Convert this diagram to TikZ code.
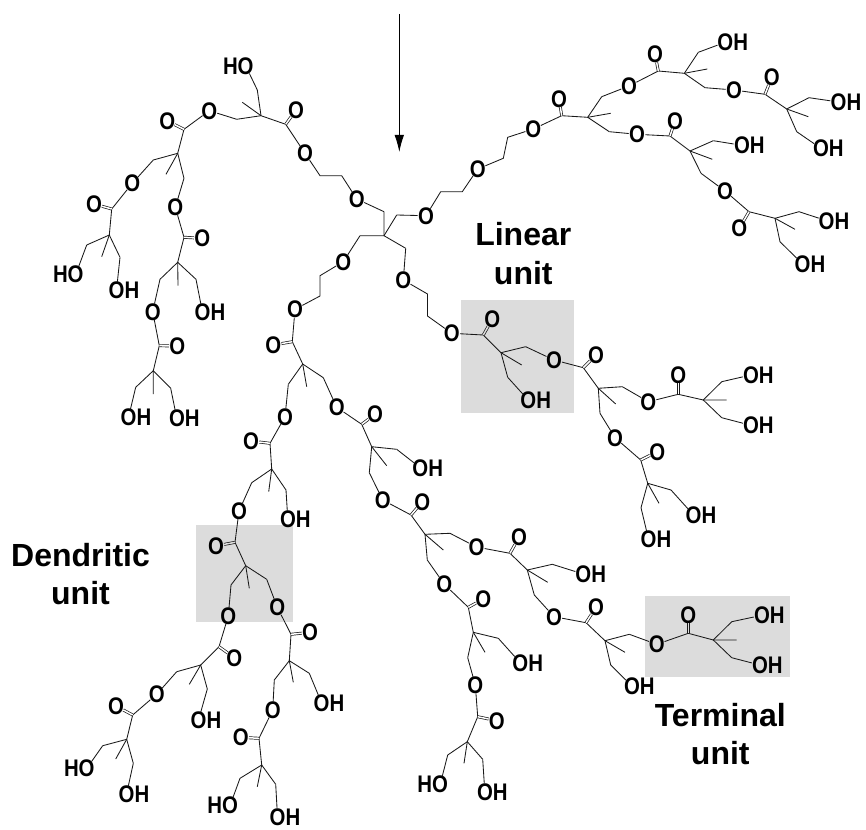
\documentclass[tikz,border=0pt]{standalone}
\usepackage{graphicx}
\usepackage{fontspec}
\setmainfont{Liberation Sans}
\usetikzlibrary{arrows.meta}
\definecolor{boxgray}{HTML}{DCDCDC}
\newcommand{\Tall}[1]{\scalebox{1.02}[1.2]{#1}}
\tikzset{
  atomtext/.style={font=\fontsize{20}{24}\selectfont\bfseries,text height=17.2pt,text depth=0pt},
  atom/.style={atomtext,shape=circle,inner sep=-2.4pt,outer sep=0pt},
  atomlabel/.style={atomtext,inner sep=0pt,outer sep=0pt},
  atomhit/.style={shape=circle,inner sep=0pt,minimum size=16.5pt,outer sep=0pt},
  bond/.style={line width=0.85pt,draw=black!90,line join=miter},
  dbl/.style={line width=0.7pt,draw=black!90,double=white,double distance=1.5pt},
  dblg/.style={line width=0.7pt,draw=black!90,double=boxgray,double distance=1.5pt},
  unitlabel/.style={font=\fontsize{32}{38.5}\selectfont\bfseries,align=center,inner sep=0pt},
  grayzone/.style={fill=boxgray,draw=none},
  pointer/.style={line width=0.9pt,-{Latex[length=17pt,width=9.5pt]}}
}
\newcommand{\Oat}[2]{\node[atom] (#1) at #2 {\Tall{O}};}
\newcommand{\OHat}[2]{\node[atomlabel] (#1) at #2 {\Tall{OH}};\node[atomhit,xshift=-7.5pt] (#1o) at #2 {};}
\newcommand{\HOat}[2]{\node[atomlabel] (#1) at #2 {\Tall{HO}};\node[atomhit,xshift=7.5pt] (#1o) at #2 {};}
\newcommand{\Vx}[2]{\coordinate (#1) at #2;}
% id, incoming O, C, =O, Q, methyl end, arm A, arm B, double-bond style
\newcommand{\Unit}[9]{%
  \coordinate (#1C) at #3; \node[atom] (#1D) at #4 {\Tall{O}};
  \coordinate (#1Q) at #5; \coordinate (#1M) at #6;
  \coordinate (#1A) at #7; \coordinate (#1B) at #8;
  \draw[bond] (#2) -- (#1C) -- (#1Q) -- (#1M);
  \draw[bond] (#1A) -- (#1Q) -- (#1B);
  \draw[#9] (#1C) -- (#1D);
}
\begin{document}
\begin{tikzpicture}[x=1pt,y=-1pt]
\useasboundingbox (0,0) rectangle (866,829);
% highlighted units
\fill[grayzone] (461,300) rectangle (574,412.7);
\fill[grayzone] (196,525) rectangle (292.7,621.7);
\fill[grayzone] (645.3,596) rectangle (790,676.7);
% arrow
\coordinate (arT) at (399.3,14);
\coordinate (arH) at (399.3,152);
\draw[pointer] (arT) -- (arH);
% core
\Vx{K}{(384,235.7)}\Vx{K1}{(384,211.7)}\Vx{K2}{(396.7,215)}\Vx{K3}{(360,235.7)}\Vx{K4}{(405.7,248.3)}
\draw[bond] (K1) -- (K) -- (K4);
\draw[bond] (K2) -- (K) -- (K3);
% --- top-left arm
\Oat{a1}{(356.7,199)}\Vx{a2}{(341.7,175.7)}\Vx{a3}{(320,175.7)}\Oat{a4}{(305,153.3)}
\draw[bond] (K1) -- (a1);
\draw[bond] (a1) -- (a2) -- (a3) -- (a4);
\Unit{uA}{a4}{(285.7,124.3)}{(296,110)}{(261,115.7)}{(242.3,102.3)}{(257.3,90)}{(236.7,119.3)}{dbl}
\HOat{hA}{(238.3,66)}\draw[bond] (uAA) -- (hAo);
\Oat{oB}{(209.3,110.7)}\draw[bond] (uAB) -- (oB);
\Unit{uB}{oB}{(184,129.3)}{(167.3,121)}{(177.7,153.3)}{(166,174.3)}{(153.3,160)}{(184,178.3)}{dbl}
\Oat{oC}{(132.3,183.3)}\draw[bond] (uBA) -- (oC);
\Oat{oD}{(175.3,207.3)}\draw[bond] (uBB) -- (oD);
\Unit{uC}{oC}{(111.7,209)}{(94,204)}{(109.3,235)}{(101.7,256.7)}{(86.7,245)}{(120,257.3)}{dbl}
\HOat{hC}{(68.3,274.3)}\draw[bond] (uCA) -- (hCo);
\OHat{tC}{(124,290)}\draw[bond] (uCB) -- (tCo);
\Unit{uD}{oD}{(184,237.3)}{(202.3,238.3)}{(177.7,262.3)}{(178,285.7)}{(160,279.3)}{(196,279.3)}{dbl}
\Oat{oE}{(152.7,311.7)}\draw[bond] (uDA) -- (oE);
\OHat{tD}{(210,312.3)}\draw[bond] (uDB) -- (tDo);
\Unit{uE}{oE}{(159.3,345.7)}{(177.3,346)}{(153.3,370.7)}{(153.3,394)}{(135.7,387.3)}{(170.7,388.3)}{dbl}
\OHat{tE1}{(136,417.3)}\draw[bond] (uEA) -- (tE1o);
\OHat{tE2}{(184.3,418.3)}\draw[bond] (uEB) -- (tE2o);
% --- top-right arm
\Oat{b1}{(426,215.7)}\Vx{b2}{(440.7,191.7)}\Vx{b3}{(462.3,191.7)}\Oat{b4}{(477.7,169)}
\Vx{b5}{(503.3,158.3)}\Vx{b6}{(507.7,137.3)}\Oat{b7}{(533.3,129)}
\draw[bond] (K2) -- (b1);
\draw[bond] (b1) -- (b2) -- (b3) -- (b4);
\draw[bond] (b4) -- (b5) -- (b6) -- (b7);
\Unit{uF}{b7}{(561.7,115.7)}{(559,98.7)}{(587.7,117.3)}{(610.7,113.3)}{(601.7,96.7)}{(609.3,131.7)}{dbl}
\Oat{oG}{(629,86)}\draw[bond] (uFA) -- (oG);
\Oat{oJ}{(637,134.3)}\draw[bond] (uFB) -- (oJ);
\Unit{uG}{oG}{(658.3,71)}{(655,54.3)}{(684.3,73.3)}{(707.3,69)}{(698.3,52.3)}{(705,87.7)}{dbl}
\OHat{tG}{(732.7,42.3)}\draw[bond] (uGA) -- (tGo);
\Oat{oH}{(734,90)}\draw[bond] (uGB) -- (oH);
\Unit{uH}{oH}{(765,94.3)}{(771.7,77.3)}{(786.7,109)}{(808.3,116.7)}{(809,97.7)}{(796.7,131.7)}{dbl}
\OHat{tH1}{(846,102)}\draw[bond] (uHA) -- (tH1o);
\OHat{tH2}{(828.3,148.3)}\draw[bond] (uHB) -- (tH2o);
\Unit{uJ}{oJ}{(670,136)}{(675,120.7)}{(690,151)}{(712.3,159.3)}{(713.3,140.7)}{(701,173.3)}{dbl}
\OHat{tJ}{(749.3,145.3)}\draw[bond] (uJA) -- (tJo);
\Oat{oK}{(725,191)}\draw[bond] (uJB) -- (oK);
\Unit{uK}{oK}{(749,211.7)}{(739.3,228.3)}{(775,218.3)}{(795,229.3)}{(799,211.7)}{(780,241.7)}{dbl}
\OHat{tK1}{(834,220.7)}\draw[bond] (uKA) -- (tK1o);
\OHat{tK2}{(810,264)}\draw[bond] (uKB) -- (tK2o);
% --- lower-right arm
\Oat{c1}{(403.3,280)}\Vx{c2}{(427.5,294)}\Vx{c3}{(427.5,316)}\Oat{c4}{(451.7,333.3)}
\draw[bond] (K4) -- (c1);
\draw[bond] (c1) -- (c2) -- (c3) -- (c4);
\Unit{uL}{c4}{(483.3,335)}{(492.3,319)}{(501,352.7)}{(521.7,365)}{(525.7,346.7)}{(507.7,377.3)}{dblg}
\Oat{oM}{(554,360)}\draw[bond] (uLA) -- (oM);
\OHat{tL}{(535.7,400)}\draw[bond] (uLB) -- (tLo);
\Unit{uM}{oM}{(583.3,367.7)}{(596,355)}{(598.3,388.3)}{(615.7,404)}{(622.3,386.7)}{(600,413.3)}{dbl}
\Oat{oN}{(648.3,401.7)}\draw[bond] (uMA) -- (oN);
\Oat{oP}{(615,437.7)}\draw[bond] (uMB) -- (oP);
\Unit{uN}{oN}{(678.3,394.3)}{(678.3,375)}{(703.3,400)}{(726.7,400)}{(721.7,381.7)}{(721.7,417.7)}{dbl}
\OHat{tN1}{(758.3,375)}\draw[bond] (uNA) -- (tN1o);
\OHat{tN2}{(758.3,425.3)}\draw[bond] (uNB) -- (tN2o);
\Unit{uP}{oP}{(640.7,460)}{(657.3,451.7)}{(647.7,483.3)}{(659,503.3)}{(671,490)}{(641,507.7)}{dbl}
\OHat{tP1}{(701,515)}\draw[bond] (uPA) -- (tP1o);
\OHat{tP2}{(656,539)}\draw[bond] (uPB) -- (tP2o);
% --- lower-centre arm
\Oat{d1}{(343.3,261.7)}\Vx{d2}{(320,275.7)}\Vx{d3}{(320,296)}\Oat{d4}{(295,309.3)}
\draw[bond] (K3) -- (d1);
\draw[bond] (d1) -- (d2) -- (d3) -- (d4);
\Unit{uQ}{d4}{(292.3,341.7)}{(273.3,345)}{(302.7,364)}{(306.7,386.7)}{(288.3,384.3)}{(323.3,377.7)}{dbl}
\Oat{oR}{(285,416.7)}\draw[bond] (uQA) -- (oR);
\Oat{oV}{(336.7,407.3)}\draw[bond] (uQB) -- (oV);
\Unit{uR}{oR}{(270,443.3)}{(251,441)}{(271.7,469)}{(268.7,491.7)}{(251.7,482.7)}{(286,490)}{dbl}
\Oat{oS}{(239,511)}\draw[bond] (uRA) -- (oS);
\OHat{tR}{(295.3,519.3)}\draw[bond] (uRB) -- (tRo);
\Unit{uS}{oS}{(235,542.3)}{(216,546)}{(245.7,565.7)}{(249.3,588.3)}{(231,585)}{(266.7,579.3)}{dblg}
\Oat{oT}{(228.3,616)}\draw[bond] (uSA) -- (oT);
\Oat{oU}{(277.3,607.3)}\draw[bond] (uSB) -- (oU);
\Unit{uT}{oT}{(219,646.7)}{(234.3,657.7)}{(200.7,665)}{(189.3,684.3)}{(176.7,671.7)}{(207.3,689)}{dbl}
\Oat{oW}{(156.7,694.3)}\draw[bond] (uTA) -- (oW);
\OHat{tT}{(206,720)}\draw[bond] (uTB) -- (tTo);
\Unit{uW}{oW}{(132.7,715)}{(116,706)}{(126.7,739.3)}{(115.7,759)}{(102.7,745.7)}{(133.3,763.3)}{dbl}
\HOat{hW}{(79.3,768.3)}\draw[bond] (uWA) -- (hWo);
\OHat{tW}{(134,794.3)}\draw[bond] (uWB) -- (tWo);
\Unit{uU}{oU}{(291,634.3)}{(310,632.3)}{(289.3,660.7)}{(293.3,682.3)}{(309.3,673.3)}{(274.3,680)}{dbl}
\OHat{tU}{(329,702.7)}\draw[bond] (uUA) -- (tUo);
\Oat{oX}{(272.7,710)}\draw[bond] (uUB) -- (oX);
\Unit{uX}{oX}{(259,738.3)}{(240.7,737.3)}{(261.7,765)}{(257.3,786.7)}{(240,778.3)}{(275.7,784.3)}{dbl}
\HOat{hX}{(222.7,805)}\draw[bond] (uXA) -- (hXo);
\OHat{tX}{(285,816.7)}\draw[bond] (uXB) -- (tXo);
\Unit{uV}{oV}{(361.7,424.3)}{(375,414.3)}{(371.7,446.7)}{(386.7,465.7)}{(396.7,449.3)}{(369.3,472.7)}{dbl}
\OHat{tV}{(427.7,467.7)}\draw[bond] (uVA) -- (tVo);
\Oat{oY}{(382.7,500)}\draw[bond] (uVB) -- (oY);
\Unit{uY}{oY}{(411,515)}{(422.3,501.7)}{(425,534.3)}{(443.3,550)}{(450,533.3)}{(427.3,560)}{dbl}
\Oat{oZ}{(476.5,547)}\draw[bond] (uYA) -- (oZ);
\Oat{oAA}{(444.3,584.3)}\draw[bond] (uYB) -- (oAA);
\Unit{uZ}{oZ}{(510,553.3)}{(519,537.3)}{(527.3,570)}{(547.7,582.3)}{(552.3,564.3)}{(534.3,595)}{dbl}
\OHat{tZ}{(590.7,574)}\draw[bond] (uZA) -- (tZo);
\Oat{oBB}{(554,616.7)}\draw[bond] (uZB) -- (oBB);
\Unit{uBB}{oBB}{(586,622.7)}{(596,607.3)}{(605,640.7)}{(625,652.3)}{(629.3,634.3)}{(610.7,665)}{dbl}
\Oat{oCC}{(656.7,644.3)}\draw[bond] (uBBA) -- (oCC);
\OHat{tBB}{(639.3,686)}\draw[bond] (uBBB) -- (tBBo);
\Unit{uCC}{oCC}{(688.3,633.3)}{(688.3,615)}{(713.3,640)}{(736.7,640)}{(731.7,621.7)}{(731.7,657.7)}{dblg}
\OHat{tCC1}{(769.3,615.3)}\draw[bond] (uCCA) -- (tCC1o);
\OHat{tCC2}{(767.3,665)}\draw[bond] (uCCB) -- (tCC2o);
\Unit{uAA}{oAA}{(468.3,607.3)}{(483.3,599)}{(473.3,632.3)}{(485,652.3)}{(498.3,638.3)}{(467.7,657.7)}{dbl}
\OHat{tAA}{(527.7,662.7)}\draw[bond] (uAAA) -- (tAAo);
\Oat{oDD}{(475.3,685)}\draw[bond] (uAAB) -- (oDD);
\Unit{uDD}{oDD}{(477.7,716.7)}{(496.7,720.7)}{(467.3,741.7)}{(464,763.3)}{(447.7,755)}{(482.7,759.3)}{dbl}
\HOat{hDD}{(432.7,784.3)}\draw[bond] (uDDA) -- (hDDo);
\OHat{tDD}{(492.3,791.7)}\draw[bond] (uDDB) -- (tDDo);
% unit labels
\node[unitlabel] (linear) at (523.3,253.5) {Linear\\unit};
\node[unitlabel] (dendritic) at (80.5,574) {Dendritic\\unit};
\node[unitlabel] (terminal) at (720.3,734) {Terminal\\unit};
\end{tikzpicture}
\end{document}
